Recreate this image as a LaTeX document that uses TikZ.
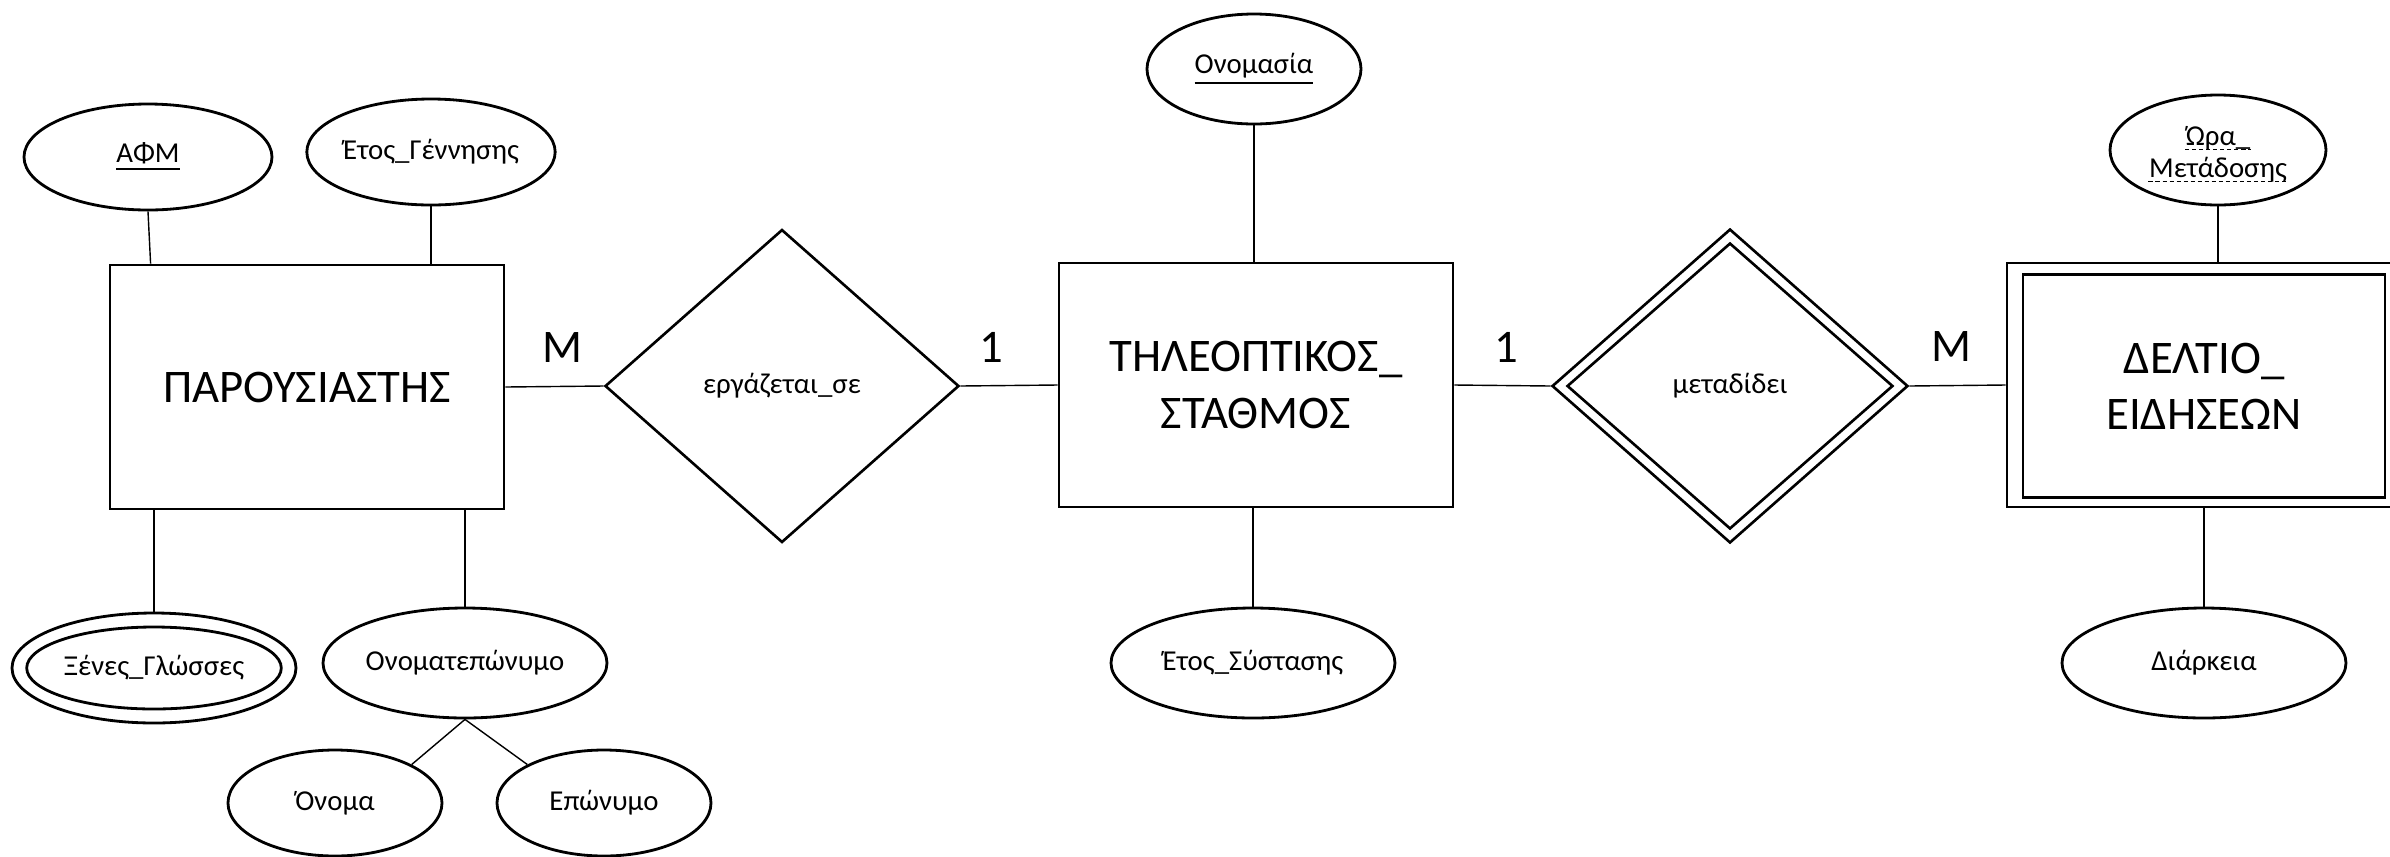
\documentclass[tikz,border=0pt]{standalone}
\usepackage{fontspec}
\setmainfont{Carlito}
\usetikzlibrary{shapes.geometric}
\tikzstyle{entity}=[rectangle, draw, line width=0.8pt, minimum width=39.4mm, minimum height=24.4mm, align=center, font=\fontsize{13.3}{16}\selectfont]
\tikzstyle{attr}=[ellipse, draw, line width=0.8pt, inner sep=0pt, align=center, font=\fontsize{8.2}{10}\selectfont]
\tikzstyle{attrtext}=[inner sep=0pt, anchor=base, font=\fontsize{8.2}{10}\selectfont]
\tikzstyle{rel}=[diamond, draw, line width=0.75pt, inner sep=0pt, font=\fontsize{8.2}{10}\selectfont]
\tikzstyle{card}=[font=\fontsize{13.3}{16}\selectfont]
\tikzstyle{partkey}=[draw, dashed, line width=0.4pt, dash pattern=on 1.2pt off 0.8pt]
\newcommand{\entitynode}{\node[entity]}
\newcommand{\attrnode}{\node[attr]}
\newcommand{\relnode}{\node[rel]}

\begin{document}
\begin{tikzpicture}[x=0.1mm, y=-0.1mm
    ,every edge/.style={draw, line width=0.4pt}
]
\useasboundingbox (0,0) rectangle (2390,856);
% entities
\entitynode (presenter) at (307,387) {ΠΑΡΟΥΣΙΑΣΤΗΣ};
\entitynode (station) at (1256,385) {ΤΗΛΕΟΠΤΙΚΟΣ\_\\ΣΤΑΘΜΟΣ};
\entitynode (bulletin) at (2204,385) {};
\entitynode (bulletin-in) [minimum width=36.2mm, minimum height=22.3mm] at (2204,386) {ΔΕΛΤΙΟ\_\\ΕΙΔΗΣΕΩΝ};
% relationships
\relnode (works) [minimum width=35.4mm, minimum height=31.3mm] at (782,386) {εργάζεται\_σε};
\relnode (broadcasts) [minimum width=35.6mm, minimum height=31.4mm] at (1730,386) {};
\relnode (broadcasts-in) [minimum width=32.6mm, minimum height=28.6mm] at (1730,386) {μεταδίδει};
% attributes
\attrnode (afm) [minimum width=24.8mm, minimum height=10.6mm] at (148,157) {\underline{ΑΦΜ}};
\attrnode (birth) [minimum width=24.4mm, minimum height=10.6mm] at (431,152) {Έτος\_Γέννησης};
\attrnode (langs) [minimum width=28.4mm, minimum height=11mm] at (154,668) {};
\attrnode (langs-in) [minimum width=24.8mm, minimum height=8.2mm] at (154,668) {Ξένες\_Γλώσσες};
\attrnode (fullname) [minimum width=28.4mm, minimum height=11mm] at (465,663) {Ονοματεπώνυμο};
\attrnode (first) [minimum width=21.4mm, minimum height=10.6mm] at (335,803) {Όνομα};
\attrnode (last) [minimum width=21.4mm, minimum height=10.6mm] at (604,803) {Επώνυμο};
\attrnode (name) [minimum width=21.4mm, minimum height=11mm] at (1254,69) {\underline{Ονομασία}};
\attrnode (founded) [minimum width=28.4mm, minimum height=11mm] at (1253,663) {Έτος\_Σύστασης};
\attrnode (airtime) [minimum width=21.6mm, minimum height=11mm] at (2218,150) {};
\node[attrtext] (airtime-a) at (2218,145) {Ώρα\_};
\node[attrtext] (airtime-b) at (2218,177) {Μετάδοσης};
\draw[partkey] ([yshift=-1.2pt]airtime-a.base west) -- ([yshift=-1.2pt]airtime-a.base east);
\draw[partkey] ([yshift=-1.2pt]airtime-b.base west) -- ([yshift=-1.2pt]airtime-b.base east);
\attrnode (duration) [minimum width=28.4mm, minimum height=11mm] at (2204,663) {Διάρκεια};
% cardinalities
\node[card] (m-works) at (562,347) {M};
\node[card] (one-works) at (991,347) {1};
\node[card] (one-tx) at (1506,347) {1};
\node[card] (m-tx) at (1951,346) {M};
\path
(presenter.east) edge (works.west)
(works.east) edge (station.west)
(station.east) edge (broadcasts.west)
(broadcasts.east) edge (bulletin.west)
(afm.south) edge ([xshift=4.2mm]presenter.north west)
(birth) edge (birth.south |- presenter.north)
(langs) edge (langs.north |- presenter.south)
(fullname) edge (fullname.north |- presenter.south)
(fullname.south) edge (first.north east)
    edge (last.north west)
(name) edge (name.south |- station.north)
(founded) edge (founded.north |- station.south)
(airtime) edge (airtime.south |- bulletin.north)
(duration) edge (duration.north |- bulletin.south)
;
\end{tikzpicture}
\end{document}
